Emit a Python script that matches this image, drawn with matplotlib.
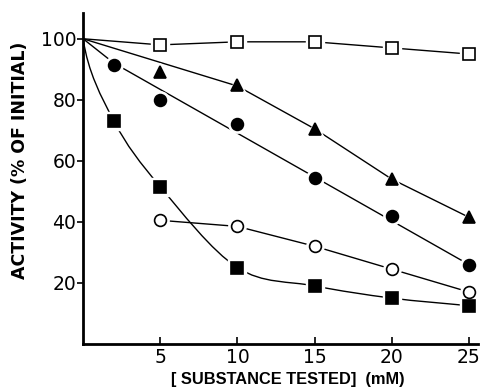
import matplotlib
matplotlib.use('Agg')
import matplotlib.pyplot as plt
import numpy as np
from matplotlib.path import Path
from matplotlib.patches import PathPatch

plt.rc('font', family=['DejaVu Sans'], size=13)

# Data
x_all = [0, 5, 10, 15, 20, 25]
open_sq = [100, 98, 99, 99, 97, 95]

x_tri = [0, 5, 10, 15, 20, 25]
tri = [100, 89, 85, 70.5, 54, 41.5]
# drawn line for triangles (fitted by hand in the original)
tri_line_x = [0, 10, 15, 20, 25]
tri_line_y = [100, 84.5, 70.5, 54, 41.5]

x_circ = [0, 2, 5, 10, 15, 20, 25]
circ = [100, 91.5, 80, 72, 54.5, 42, 26]
circ_line_x = [0, 2, 25]
circ_line_y = [100, 92, 26]

x_fsq = [0, 2, 5, 10, 15, 20, 25]
fsq = [100, 73, 51.5, 25, 19, 15, 12.5]

x_ocirc = [5, 10, 15, 20, 25]
ocirc = [40.5, 38.5, 32, 24.5, 17]


def smooth_path(xs, ys):
    # Catmull-Rom through the points, drawn as cubic Bezier segments
    pts = np.column_stack([xs, ys]).astype(float)
    ext = np.vstack([pts[0] + [0, 40], pts, pts[-1] + (pts[-1] - pts[-2])])
    verts = [tuple(pts[0])]
    codes = [Path.MOVETO]
    for i in range(1, len(ext) - 2):
        p0, p1, p2, p3 = ext[i - 1], ext[i], ext[i + 1], ext[i + 2]
        c1 = p1 + (p2 - p0) / 6.0
        c2 = p2 - (p3 - p1) / 6.0
        verts += [tuple(c1), tuple(c2), tuple(p2)]
        codes += [Path.CURVE4] * 3
    return Path(verts, codes)


fig = plt.figure(figsize=(4.83, 3.89), dpi=100)
ax = fig.add_axes([0.172, 0.116, 0.818, 0.851])

lw = 1.0
ax.plot(x_all, open_sq, color='black', lw=lw, zorder=1)
ax.plot(tri_line_x, tri_line_y, color='black', lw=lw, zorder=1)
ax.plot(circ_line_x, circ_line_y, color='black', lw=lw, zorder=1)
ax.plot(x_ocirc, ocirc, color='black', lw=lw, zorder=1)
ax.add_patch(PathPatch(smooth_path(x_fsq, fsq), fill=False, color='black', lw=lw, zorder=1))

ms = 8.5
series = [
    (x_all[1:], open_sq[1:], 's', 'white'),
    (x_tri[1:], tri[1:], '^', 'black'),
    (x_circ[1:], circ[1:], 'o', 'black'),
    (x_fsq[1:], fsq[1:], 's', 'black'),
    (x_ocirc, ocirc, 'o', 'white'),
]
for xs, ys, m, fc in series:
    # white halo to break the line around each marker
    ax.plot(xs, ys, ls='none', marker=m, ms=ms + 4, mfc='white', mec='white', zorder=2)
    ax.plot(xs, ys, ls='none', marker=m, ms=ms, mfc=fc, mec='black', mew=1.2, zorder=3)

ax.set_xlim(0, 25.6)
ax.set_ylim(0, 108.5)
ax.set_xticks([5, 10, 15, 20, 25])
ax.set_yticks([20, 40, 60, 80, 100])
ax.tick_params(axis='x', direction='in', length=5, width=1.2, pad=3, labelsize=13.5)
ax.tick_params(axis='y', direction='out', length=4, width=1.2, pad=1, labelsize=13.5)
for s in ['top', 'right']:
    ax.spines[s].set_visible(False)
for s in ['left', 'bottom']:
    ax.spines[s].set_linewidth(2)

ax.text(0.519, -0.109, '[ SUBSTANCE TESTED]  (mM)', transform=ax.transAxes,
        ha='center', va='center', fontweight='bold', fontsize=11.8,
        family='Liberation Sans')
ax.text(-0.16, 0.556, 'ACTIVITY (% OF INITIAL)', transform=ax.transAxes,
        ha='center', va='center', rotation=90, fontweight='bold', fontsize=12.5)

fig.savefig('out.png', dpi=100)
